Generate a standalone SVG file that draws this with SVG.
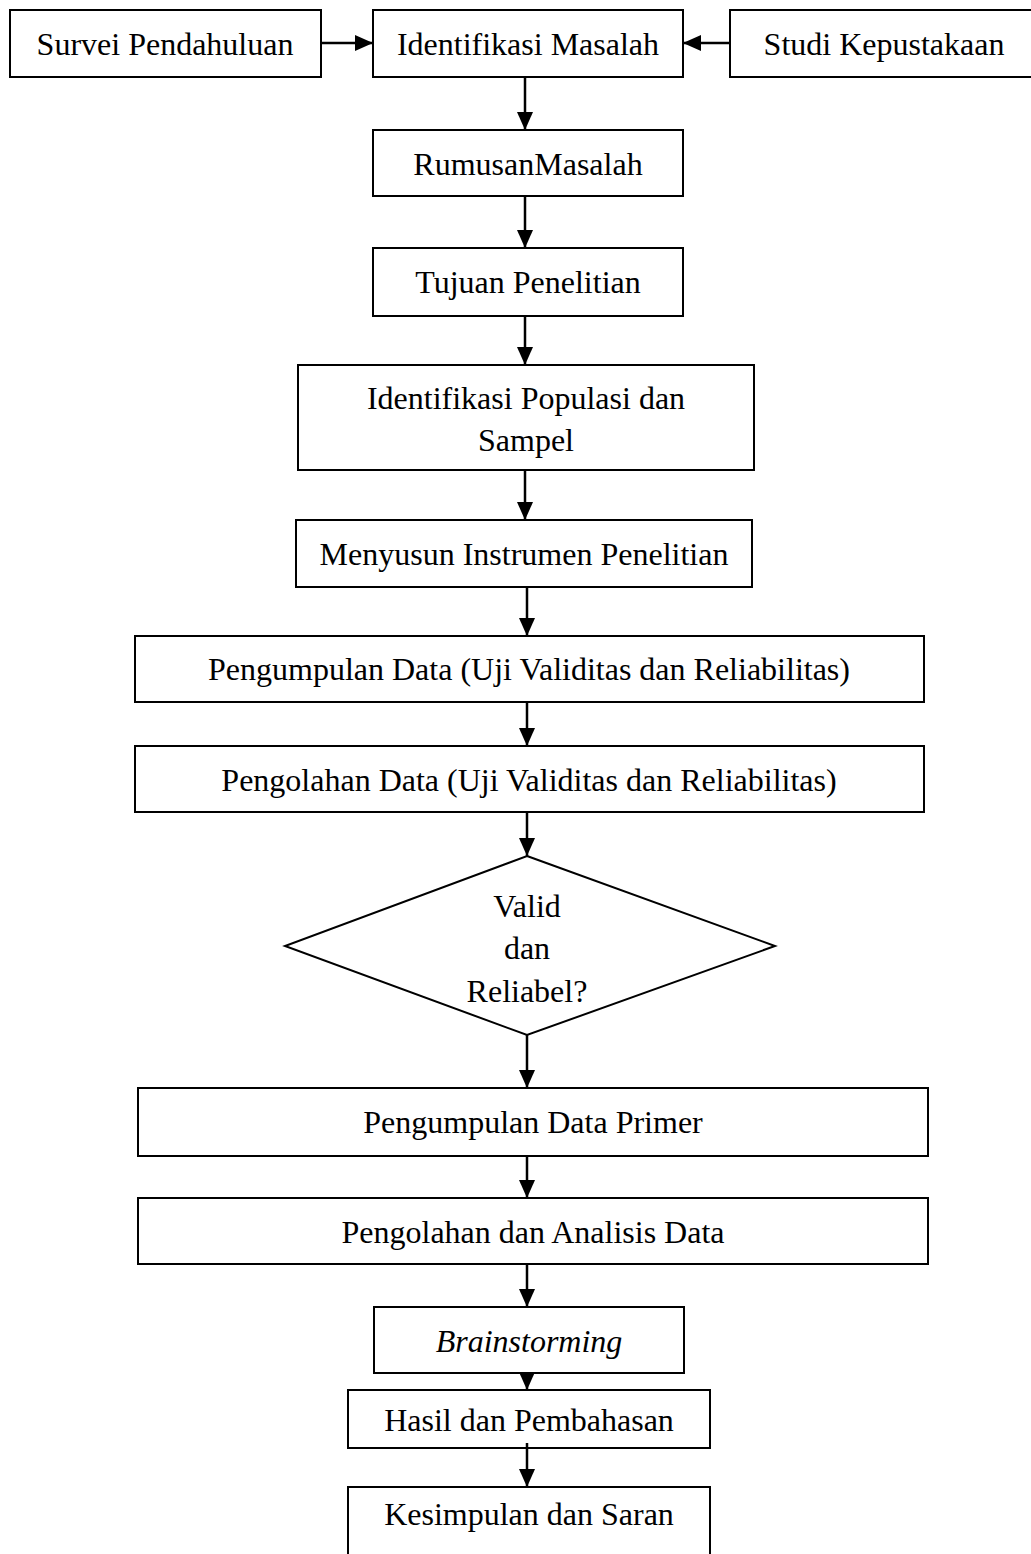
<svg xmlns="http://www.w3.org/2000/svg" width="1031" height="1554" viewBox="0 0 1031 1554">
<style>
.box{fill:#fff;stroke:#000;stroke-width:2}
.t{font-family:"Liberation Serif","Times New Roman",serif;font-size:32px;fill:#000;text-anchor:middle;dominant-baseline:central}
.it{font-style:italic}
.c{stroke:#000;stroke-width:2.5;fill:none}
</style>
<defs>
<marker id="ahv" markerWidth="18" markerHeight="16" refX="18" refY="8" orient="auto" markerUnits="userSpaceOnUse" viewBox="0 0 18 16">
<path d="M0,0 L18,8 L0,16 Z" fill="#000"/>
</marker>
</defs>
<rect width="1031" height="1554" fill="#fff"/>
<g id="survei"><rect class="box" x="10" y="10" width="311" height="67"/><text class="t" x="165" y="44">Survei Pendahuluan</text></g>
<g id="identifikasi"><rect class="box" x="373" y="10" width="310" height="67"/><text class="t" x="528" y="44">Identifikasi Masalah</text></g>
<g id="studi"><rect class="box" x="730" y="10" width="320" height="67"/><text class="t" x="884" y="44">Studi Kepustakaan</text></g>
<g id="rumusan"><rect class="box" x="373" y="130" width="310" height="66"/><text class="t" x="528" y="164">RumusanMasalah</text></g>
<g id="tujuan"><rect class="box" x="373" y="248" width="310" height="68"/><text class="t" x="528" y="282">Tujuan Penelitian</text></g>
<g id="populasi"><rect class="box" x="298" y="365" width="456" height="105"/><text class="t" x="526" y="398">Identifikasi Populasi dan</text><text class="t" x="526" y="440">Sampel</text></g>
<g id="instrumen"><rect class="box" x="296" y="520" width="456" height="67"/><text class="t" x="524" y="554">Menyusun Instrumen Penelitian</text></g>
<g id="pengumpulan"><rect class="box" x="135" y="636" width="789" height="66"/><text class="t" x="529" y="669">Pengumpulan Data (Uji Validitas dan Reliabilitas)</text></g>
<g id="pengolahan"><rect class="box" x="135" y="746" width="789" height="66"/><text class="t" x="529" y="780">Pengolahan Data (Uji Validitas dan Reliabilitas)</text></g>
<g id="keputusan"><polygon class="box" points="527,856 775,946 527,1035 285,946"/><text class="t" x="527" y="906">Valid</text><text class="t" x="527" y="948">dan</text><text class="t" x="527" y="991">Reliabel?</text></g>
<g id="primer"><rect class="box" x="138" y="1088" width="790" height="68"/><text class="t" x="533" y="1122">Pengumpulan Data Primer</text></g>
<g id="analisis"><rect class="box" x="138" y="1198" width="790" height="66"/><text class="t" x="533" y="1232">Pengolahan dan Analisis Data</text></g>
<g id="brainstorming"><rect class="box" x="374" y="1307" width="310" height="66"/><text class="t it" x="529" y="1341">Brainstorming</text></g>
<g id="hasil"><rect class="box" x="348" y="1390" width="362" height="58"/><text class="t" x="529" y="1420">Hasil dan Pembahasan</text></g>
<g id="kesimpulan"><rect class="box" x="348" y="1487" width="362" height="80"/><text class="t" x="529" y="1514">Kesimpulan dan Saran</text></g>
<g id="connectors">
<line class="c" x1="321" y1="43" x2="373" y2="43" marker-end="url(#ahv)"/>
<line class="c" x1="730" y1="43" x2="683" y2="43" marker-end="url(#ahv)"/>
<line class="c" x1="525" y1="77" x2="525" y2="130" marker-end="url(#ahv)"/>
<line class="c" x1="525" y1="196" x2="525" y2="248" marker-end="url(#ahv)"/>
<line class="c" x1="525" y1="316" x2="525" y2="365" marker-end="url(#ahv)"/>
<line class="c" x1="525" y1="470" x2="525" y2="520" marker-end="url(#ahv)"/>
<line class="c" x1="527" y1="587" x2="527" y2="636" marker-end="url(#ahv)"/>
<line class="c" x1="527" y1="702" x2="527" y2="746" marker-end="url(#ahv)"/>
<line class="c" x1="527" y1="812" x2="527" y2="856" marker-end="url(#ahv)"/>
<line class="c" x1="527" y1="1035" x2="527" y2="1088" marker-end="url(#ahv)"/>
<line class="c" x1="527" y1="1156" x2="527" y2="1198" marker-end="url(#ahv)"/>
<line class="c" x1="527" y1="1264" x2="527" y2="1307" marker-end="url(#ahv)"/>
<line class="c" x1="527" y1="1373" x2="527" y2="1390" marker-end="url(#ahv)"/>
<line class="c" x1="527" y1="1443" x2="527" y2="1487" marker-end="url(#ahv)"/>
</g>
</svg>
